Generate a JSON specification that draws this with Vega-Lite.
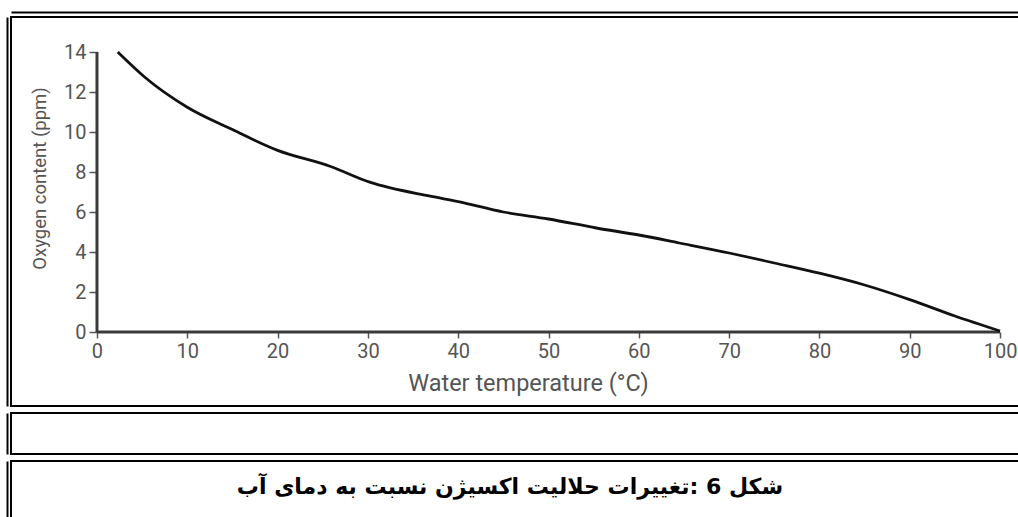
{
  "$schema": "https://vega.github.io/schema/vega-lite/v6.json",
  "background": "white",
  "padding": {"left": 6, "top": 11, "right": 0, "bottom": 0},
  "autosize": {"type": "pad"},
  "config": {
    "view": {"stroke": "#000000", "strokeWidth": 2},
    "concat": {"spacing": 5}
  },
  "vconcat": [
    {
      "width": 1010,
      "height": 389,
      "resolve": {"axis": {"x": "independent", "y": "independent"}},
      "layer": [
        {
          "data": {"values": [{}]},
          "mark": {"type": "rule", "color": "#3a3a3a", "strokeWidth": 3},
          "encoding": {
            "x": {"datum": 0, "type": "quantitative", "axis": {"orient": "top", "offset": 5, "domain": true, "domainColor": "#000000", "domainWidth": 2, "ticks": false, "labels": false, "grid": false, "title": null}},
            "x2": {"datum": 100},
            "y": {"datum": 0, "type": "quantitative", "axis": null}
          }
        },
        {
          "data": {"values": [{}]},
          "mark": {"type": "rule", "color": "#3a3a3a", "strokeWidth": 3},
          "encoding": {
            "x": {"datum": 0, "type": "quantitative", "axis": null},
            "y": {"datum": 0, "type": "quantitative", "axis": {"orient": "left", "offset": 4, "domain": true, "domainColor": "#000000", "domainWidth": 2, "ticks": false, "labels": false, "grid": false, "title": null}},
            "y2": {"datum": 14}
          }
        },
        {
          "data": {
            "values": [
              {"temp": 2.3, "oxygen": 14.0},
              {"temp": 5.3, "oxygen": 12.74},
              {"temp": 10, "oxygen": 11.24},
              {"temp": 15, "oxygen": 10.12},
              {"temp": 20, "oxygen": 9.08},
              {"temp": 25.8, "oxygen": 8.29},
              {"temp": 30.2, "oxygen": 7.49},
              {"temp": 36.9, "oxygen": 6.79},
              {"temp": 40, "oxygen": 6.52},
              {"temp": 45, "oxygen": 6.0},
              {"temp": 50, "oxygen": 5.65},
              {"temp": 55.3, "oxygen": 5.2},
              {"temp": 60, "oxygen": 4.85},
              {"temp": 64.5, "oxygen": 4.45},
              {"temp": 70, "oxygen": 3.95},
              {"temp": 75, "oxygen": 3.45},
              {"temp": 80, "oxygen": 2.94},
              {"temp": 85, "oxygen": 2.35},
              {"temp": 90, "oxygen": 1.62},
              {"temp": 95, "oxygen": 0.8},
              {"temp": 100, "oxygen": 0.05}
            ]
          },
          "mark": {"type": "line", "color": "#111111", "strokeWidth": 2.8, "interpolate": "monotone"},
          "encoding": {
            "x": {
              "field": "temp",
              "type": "quantitative",
              "scale": {"domain": [-9.52, 102.32], "nice": false, "zero": false},
              "axis": {
                "orient": "bottom",
                "values": [0, 10, 20, 30, 40, 50, 60, 70, 80, 90, 100],
                "domain": false,
                "grid": false,
                "offset": -74,
                "tickSize": 6,
                "tickColor": "#555555",
                "tickWidth": 1.5,
                "labelFont": "Roboto",
                "labelFontSize": 20,
                "labelColor": "#555555",
                "labelPadding": 3,
                "labelFlush": false,
                "labelOverlap": false,
                "title": "Water temperature (°C)",
                "titleFont": "Roboto",
                "titleFontSize": 23.5,
                "titleFontWeight": "normal",
                "titleColor": "#555555",
                "titlePadding": 10,
                "titleX": 517
              }
            },
            "y": {
              "field": "oxygen",
              "type": "quantitative",
              "scale": {"domain": [-3.7, 15.75], "nice": false, "zero": false},
              "axis": {
                "orient": "left",
                "values": [0, 2, 4, 6, 8, 10, 12, 14],
                "domain": false,
                "grid": false,
                "offset": -86,
                "tickSize": 8,
                "tickColor": "#555555",
                "tickWidth": 1.5,
                "labelFont": "Roboto",
                "labelFontSize": 20,
                "labelColor": "#555555",
                "labelPadding": 3,
                "labelFlush": false,
                "labelOverlap": false,
                "title": "Oxygen content (ppm)",
                "titleFont": "Roboto",
                "titleFontSize": 18.5,
                "titleFontWeight": "normal",
                "titleColor": "#555555",
                "titlePadding": 14,
                "titleY": 161
              }
            }
          }
        }
      ]
    },
    {
      "width": 1010,
      "height": 41,
      "data": {"values": [{"blank": ""}]},
      "mark": {"type": "text"},
      "encoding": {
        "text": {"field": "blank"},
        "x": {"datum": 0.5, "type": "quantitative", "scale": {"domain": [0, 1]}, "axis": null},
        "y": {"datum": 0.5, "type": "quantitative", "scale": {"domain": [0, 1]}, "axis": {"orient": "left", "offset": 4, "domain": true, "domainColor": "#000000", "domainWidth": 2, "ticks": false, "labels": false, "grid": false, "title": null}}
      }
    },
    {
      "width": 1010,
      "height": 60,
      "data": {"values": [{"caption": "شکل 6 :تغییرات  حلالیت اکسیژن نسبت به  دمای آب"}]},
      "mark": {"type": "text", "font": "DejaVu Sans", "fontSize": 22, "fontWeight": "bold", "color": "#000000", "baseline": "middle", "align": "center"},
      "encoding": {
        "text": {"field": "caption"},
        "x": {"datum": 0.494, "type": "quantitative", "scale": {"domain": [0, 1]}, "axis": null},
        "y": {"datum": 0.56, "type": "quantitative", "scale": {"domain": [0, 1]}, "axis": {"orient": "left", "offset": 4, "domain": true, "domainColor": "#000000", "domainWidth": 2, "ticks": false, "labels": false, "grid": false, "title": null}}
      }
    }
  ]
}
